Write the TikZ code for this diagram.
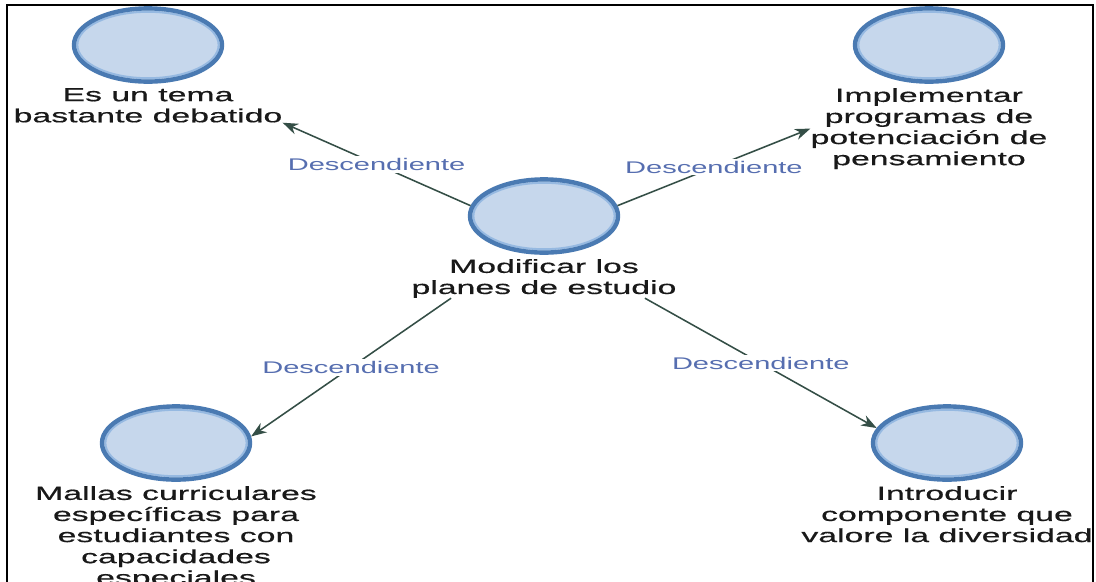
\documentclass[tikz,border=0pt]{standalone}
\usepackage{fontspec}
\setmainfont{Liberation Sans}
\newfontfamily\widesans[FakeStretch=1.78, FakeBold=0.6]{Liberation Sans}
\newfontfamily\relsans[FakeStretch=1.72]{Liberation Sans}
\usetikzlibrary{positioning, arrows.meta, shapes.geometric, calc}
\definecolor{ringblue}{RGB}{74,122,178}
\definecolor{ringlight}{RGB}{150,185,225}
\definecolor{fillblue}{RGB}{198,215,236}
\definecolor{edgegreen}{RGB}{52,78,70}
\definecolor{relblue}{RGB}{86,110,176}
\definecolor{txtgray}{RGB}{25,25,25}
\tikzset{
  topic/.style={ellipse, draw=ringblue, fill=fillblue, line width=0.11cm, minimum width=3.7cm, minimum height=1.83cm,
    path picture={\draw[ringlight, line width=0.05cm] (path picture bounding box.center) ellipse [x radius=1.765cm, y radius=0.83cm];}},
  caption/.style={font=\widesans\fontsize{13.5}{15}\selectfont, text=txtgray, align=center, inner sep=0pt},
  rel/.style={-{Stealth[length=11pt, width=8pt, inset=3.5pt]}, edgegreen, line width=1.1pt},
  rellabel/.style={font=\relsans\fontsize{12}{14}\selectfont, text=relblue, fill=white, inner sep=1.5pt}
}

\begin{document}
\begin{tikzpicture}[x=0.025cm, y=-0.025cm]
    \useasboundingbox (0,0) rectangle (1096,581);

    % Frame
    \draw[line width=1.4pt] (7,590) -- (7,5) -- (1093,5) -- (1093,590);

    % Topics
    \node[topic] (modif) at (544,216) {};
    \node[topic] (tema) at (148,45) {};
    \node[topic] (progr) at (929,45) {};
    \node[topic] (mallas) at (176,443) {};
    \node[topic] (divers) at (947,443) {};

    % Captions
    \node[caption, below=0.1cm of modif] (modiftxt) {Modificar los\\planes de estudio};
    \node[caption, below=0.1cm of tema] (tematxt) {Es un tema\\bastante debatido};
    \node[caption, below=0.1cm of progr] (progrtxt) {Implementar\\programas de\\potenciación de\\pensamiento};
    \node[caption, below=0.1cm of mallas] (mallastxt) {Mallas curriculares\\específicas para\\estudiantes con\\capacidades\\especiales};
    \node[caption, below=0.1cm of divers] (diverstxt) {Introducir\\componente que\\valore la diversidad};

    % Relations
    \draw[rel] (modif.172) -- node[rellabel] {Descendiente} (tematxt.south east);
    \draw[rel] (modif.8) -- node[rellabel] {Descendiente} (progrtxt.west);
    \draw[rel] ($(modiftxt.south west)!0.15!(modiftxt.south east)$) -- node[rellabel] {Descendiente} (mallas.5);
    \draw[rel] ($(modiftxt.south west)!0.88!(modiftxt.south east)$) -- node[rellabel] {Descendiente} (divers.168);
\end{tikzpicture}
\end{document}
